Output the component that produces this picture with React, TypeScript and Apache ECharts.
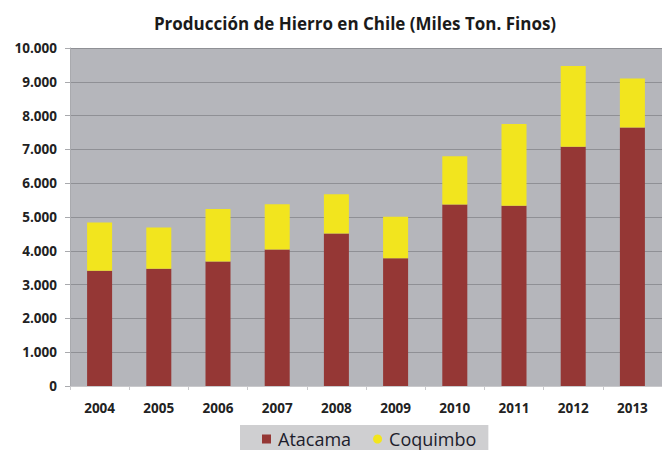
import React, { useEffect, useRef } from "react";
import * as echarts from "echarts";

const years = ["2004", "2005", "2006", "2007", "2008", "2009", "2010", "2011", "2012", "2013"];
const atacama = [3410, 3470, 3680, 4040, 4510, 3780, 5370, 5330, 7080, 7650];
const coquimbo = [1430, 1220, 1560, 1340, 1160, 1230, 1430, 2420, 2390, 1450];
const titleText = "Producción de Hierro en Chile (Miles Ton. Finos)";

const fmt = (v: number) => String(v).replace(/\B(?=(\d{3})+(?!\d))/g, ".");

export default function App() {
  const ref = useRef<HTMLDivElement>(null);
  useEffect(() => {
    if (!ref.current) return;
    const chart = echarts.init(ref.current, undefined, { renderer: "svg" });
    chart.setOption({
      animation: false,
      backgroundColor: "#ffffff",
      title: {
        text: titleText,
        left: 350,
        textAlign: "center",
        top: 10,
        textStyle: { fontFamily: "Open Sans", fontWeight: "bold", fontSize: 17, color: "#1a1a1a" },
      },
      legend: {
        data: [
          { name: "Atacama", icon: "rect" },
          { name: "Coquimbo", icon: "circle" },
        ],
        left: 240,
        top: 425,
        padding: [5, 12, 12, 22],
        itemGap: 22,
        itemWidth: 9,
        itemHeight: 9,
        backgroundColor: "#cfcfd1",
        textStyle: { fontFamily: "Open Sans", fontSize: 18, color: "#1c1c2c", padding: [0, 0, 0, 2] },
      },
      grid: { left: 70, top: 48, width: 597, height: 338, show: true, backgroundColor: "#b5b6bb", borderWidth: 0 },
      xAxis: {
        type: "category",
        data: years,
        axisLine: { show: true, lineStyle: { color: "#c9c9cc", width: 1 } },
        axisTick: { show: true, length: 4, lineStyle: { color: "#c9c9cc" } },
        axisLabel: { margin: 15, fontFamily: "Open Sans", fontWeight: "bold", fontSize: 13.5, color: "#222" },
      },
      yAxis: {
        type: "value",
        min: 0,
        max: 10000,
        interval: 1000,
        axisLine: { show: true, lineStyle: { color: "#a9aaae" } },
        axisTick: { show: true, length: 5, lineStyle: { color: "#a9aaae" } },
        splitLine: { show: true, lineStyle: { color: "#8f9095", width: 1 } },
        axisLabel: {
          margin: 13,
          fontFamily: "Open Sans",
          fontWeight: "bold",
          fontSize: 13.5,
          color: "#222",
          formatter: (v: number) => fmt(v),
        },
      },
      series: [
        {
          name: "Atacama",
          type: "bar",
          stack: "total",
          data: atacama,
          barWidth: 25,
          itemStyle: { color: "#953735" },
        },
        {
          name: "Coquimbo",
          type: "bar",
          stack: "total",
          data: coquimbo,
          barWidth: 25,
          itemStyle: { color: "#f2e51e" },
        },
      ],
    });
    return () => chart.dispose();
  }, []);
  return (
    <div
      ref={ref}
      style={{ position: "fixed", left: 0, top: 0, width: 662, height: 450 }}
    />
  );
}
